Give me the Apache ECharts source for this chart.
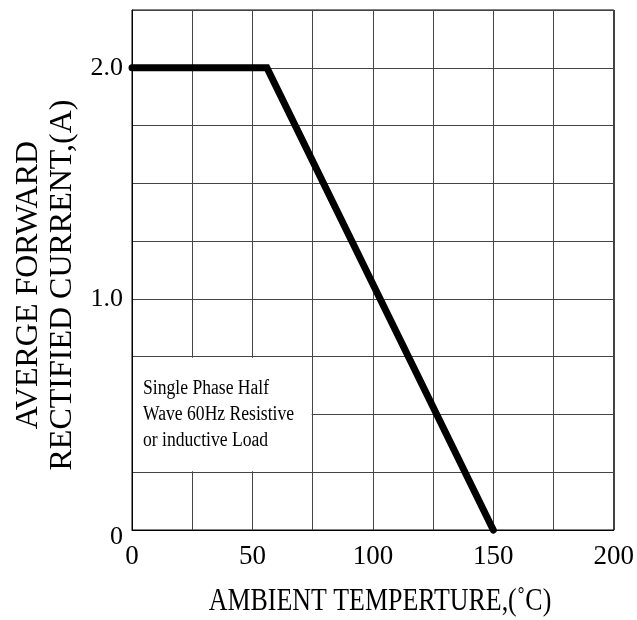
<!DOCTYPE html>
<html>
<head>
<meta charset="utf-8">
<script src="https://cdn.jsdelivr.net/npm/echarts@6/dist/echarts.min.js"></script>
<style>
  html, body { margin: 0; background: #fff; }
  #chart { width: 637px; height: 620px; }
</style>
</head>
<body>
<div id="chart"></div>
<script>
// derating curve: ambient temperature (C) vs average forward current (A)
const temps = [0, 56, 150];
const currents = [2.0, 2.0, 0];
const xTicks = [0, 50, 100, 150, 200];
const yTicks = [0, 1.0, 2.0];
const noteLines = ['Single Phase Half', 'Wave 60Hz Resistive', 'or inductive Load'];
const noteBox = [[0, 0.75], [75, 0.25]]; // top-left / bottom-right, data units

const FONT = "'Liberation Serif', 'Times New Roman', serif";

const chart = echarts.init(document.getElementById('chart'));

const option = {
  animation: false,
  backgroundColor: '#fff',
  grid: {
    left: 132, right: 22, top: 10, bottom: 90,
    show: true, borderColor: '#000', borderWidth: 1
  },
  xAxis: {
    type: 'value', min: 0, max: 200, interval: 25,
    axisLine: { show: true, lineStyle: { color: '#000', width: 1 } },
    axisTick: { show: false },
    splitLine: { show: true, lineStyle: { color: '#444', width: 1 } },
    axisLabel: {
      margin: 13, fontSize: 27, fontFamily: FONT, color: '#000',
      formatter: v => xTicks.includes(v) ? String(v) : ''
    }
  },
  yAxis: {
    type: 'value', min: 0, max: 2.25, interval: 0.25,
    axisLine: { show: true, lineStyle: { color: '#000', width: 1 } },
    axisTick: { show: false },
    splitLine: { show: true, lineStyle: { color: '#444', width: 1 } },
    axisLabel: {
      margin: 9, fontSize: 26, fontFamily: FONT, color: '#000',
      formatter: v => {
        if (!yTicks.some(t => Math.abs(t - v) < 1e-9)) return '';
        // the zero label sits a little below the axis in the original
        return v === 0 ? '{low|0}' : v.toFixed(1);
      },
      rich: {
        low: { fontSize: 26, fontFamily: FONT, color: '#000', padding: [14, 0, 0, 0] }
      }
    }
  },
  series: [{
    type: 'line',
    data: temps.map((t, i) => [t, currents[i]]),
    symbol: 'none',
    clip: false,
    lineStyle: { color: '#000', width: 7, cap: 'round', join: 'miter' },
    z: 5
  }]
};

chart.setOption(option);

// annotation box and titles
const p0 = chart.convertToPixel({ gridIndex: 0 }, noteBox[0]);
const p1 = chart.convertToPixel({ gridIndex: 0 }, noteBox[1]);

chart.setOption({
  graphic: [
    {
      type: 'rect', z: 3,
      shape: { x: p0[0] + 1, y: p0[1] + 1, width: p1[0] - p0[0] - 2, height: p1[1] - p0[1] - 2 },
      style: { fill: '#fff' }
    },
    ...noteLines.map((s, i) => ({
      type: 'text', z: 4,
      x: p0[0] + 11, y: p0[1] + 32 + i * 26,
      scaleX: 0.88,
      style: { text: s, font: '20px ' + FONT, fill: '#000', textVerticalAlign: 'middle' }
    })),
    {
      type: 'text',
      x: 380, y: 602, scaleX: 0.81,
      style: {
        text: 'AMBIENT TEMPERTURE,(˚C)', font: '32px ' + FONT, fill: '#000',
        textAlign: 'center', textVerticalAlign: 'middle'
      }
    },
    {
      type: 'text',
      x: 46, y: 285, rotation: Math.PI / 2,
      style: {
        text: 'AVERGE FORWARD\nRECTIFIED CURRENT,(A)', font: '32px ' + FONT, fill: '#000',
        lineHeight: 34, textAlign: 'center', textVerticalAlign: 'middle'
      }
    }
  ]
});

window.addEventListener('resize', () => chart.resize());
</script>
</body>
</html>
